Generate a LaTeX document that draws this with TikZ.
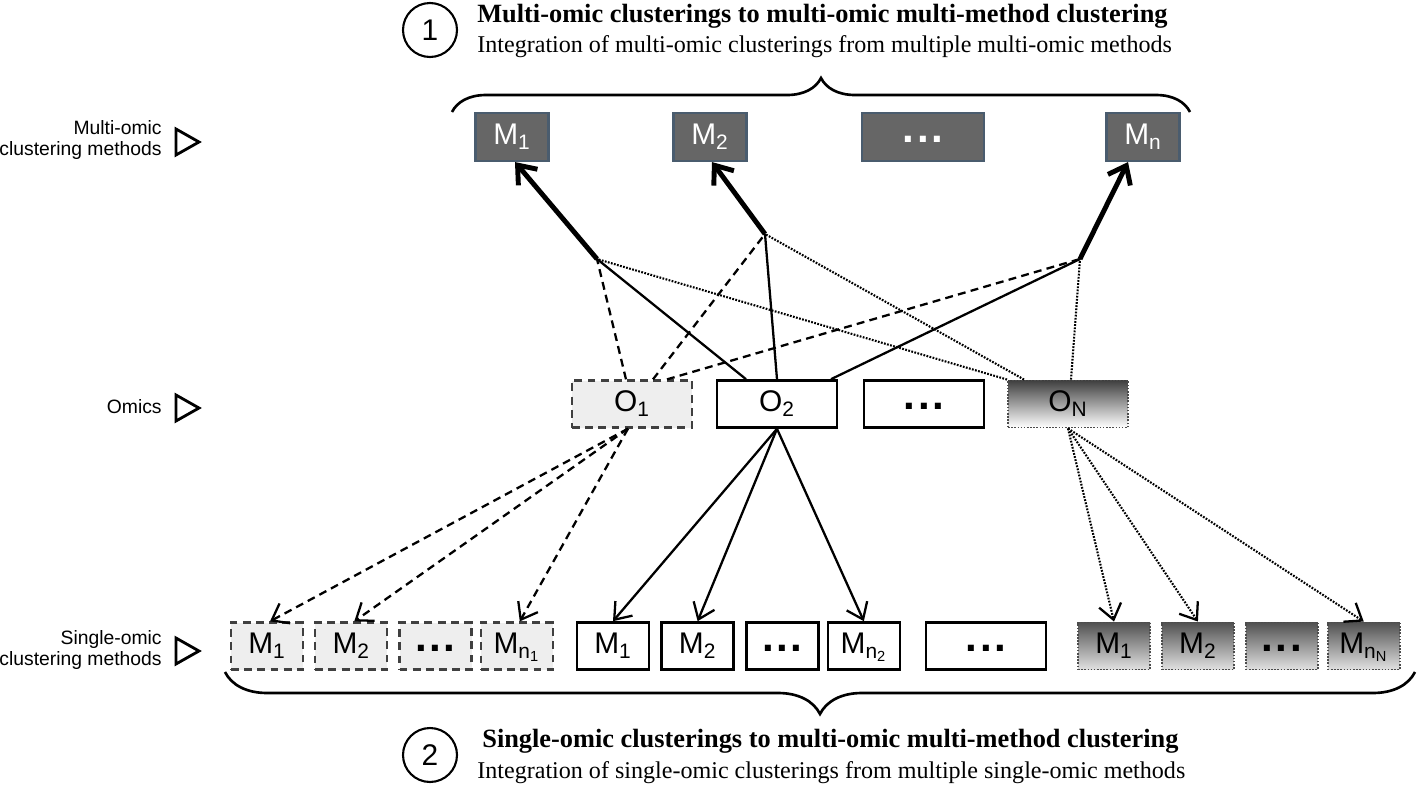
\documentclass[tikz,border=0pt]{standalone}
\usepackage{fontspec}
\setmainfont{Liberation Serif}
\setsansfont{Liberation Sans}
\usetikzlibrary{positioning,arrows.meta,decorations.pathreplacing}

\definecolor{mdark}{RGB}{102,102,102}
\definecolor{mframe}{RGB}{74,92,110}
\definecolor{lgray}{RGB}{238,238,238}
\definecolor{bordgray}{RGB}{64,64,64}

\newcommand{\mdots}{{\fontsize{24}{24}\selectfont\bfseries\raisebox{0.06em}{.\kern0.06em.\kern0.06em.}}}

\begin{document}
\begin{tikzpicture}[
    x=0.02cm, y=-0.02cm,
    box/.style={minimum width=1.44cm, minimum height=0.94cm, inner sep=0pt, text height=12pt, text depth=3pt, font=\sffamily\fontsize{17}{17}\selectfont},
    multibox/.style={box, fill=mdark, draw=mframe, line width=1.2pt, text=white, minimum width=1.46cm, minimum height=0.96cm},
    dashbox/.style={box, fill=lgray, draw=bordgray, line width=1.3pt, dash pattern=on 4.5pt off 3pt},
    solidbox/.style={box, fill=white, draw=black, line width=1.5pt},
    dotbox/.style={box, draw=black!70, line width=1.1pt, dash pattern=on 0.9pt off 0.9pt},
    gradbox/.style={dotbox, top color=black!68, bottom color=black!12},
    wide/.style={minimum width=2.4cm},
    rowlabel/.style={anchor=east, align=right, inner sep=0pt, font=\sffamily\fontsize{11}{12.5}\selectfont},
    marker/.style={draw, line width=1.6pt, line join=miter},
    numcircle/.style={draw, circle, line width=1.2pt, minimum size=1.08cm, inner sep=0pt, font=\sffamily\fontsize{17}{17}\selectfont},
    title/.style={anchor=west, inner sep=0pt, font=\bfseries\fontsize{15}{15}\selectfont},
    subtitle/.style={anchor=west, inner sep=0pt, font=\fontsize{13.7}{14}\selectfont},
    dashline/.style={line width=1.3pt, dash pattern=on 4.5pt off 3pt},
    solidline/.style={line width=1.3pt},
    dotline/.style={line width=1.2pt, dash pattern=on 1pt off 0.8pt},
    toarrow/.style={-{Straight Barb[length=0.3cm, width=0.45cm, line width=1.3pt]}},
    uparrow/.style={line width=2.8pt, -{Straight Barb[length=0.32cm, width=0.5cm]}},
    bracestyle/.style={decorate, line width=1.5pt}
]
\useasboundingbox (0,0) rectangle (1424,788);

% Heading 1
\node[numcircle] (n1) at (430,30) {1};
\node[title] (t1) at (477,16) {Multi-omic clusterings to multi-omic multi-method clustering};
\node[subtitle] (s1) at (477,47) {Integration of multi-omic clusterings from multiple multi-omic methods};
\draw[bracestyle, decoration={brace, amplitude=0.68cm}] (452,112) -- (1190,112);

% Multi-omic methods
\node[multibox] (m1) at (512,137) {M\textsubscript{1}};
\node[multibox] (m2) at (710,137) {M\textsubscript{2}};
\node[multibox, minimum width=2.44cm] (mdots) at (923,137) {\mdots};
\node[multibox] (mn) at (1143,137) {M\textsubscript{n}};

% Omics
\node[dashbox, wide] (o1) at (632,404) {O\textsubscript{1}};
\node[solidbox, wide] (o2) at (777,404) {O\textsubscript{2}};
\node[solidbox, wide] (odots) at (924,404) {\mdots};
\node[dotbox, wide, top color=black!75, bottom color=white] (oN) at (1068,404) {O\textsubscript{N}};

% Single-omic methods
\node[dashbox] (a1) at (267,646) {M\textsubscript{1}};
\node[dashbox, right=0.2cm of a1] (a2) {M\textsubscript{2}};
\node[dashbox, right=0.2cm of a2] (adots) {\mdots};
\node[dashbox, right=0.14cm of adots] (an) {M\textsubscript{n\textsubscript{1}}};
\node[solidbox] (b1) at (613,646) {M\textsubscript{1}};
\node[solidbox, right=0.2cm of b1] (b2) {M\textsubscript{2}};
\node[solidbox, right=0.2cm of b2] (bdots) {\mdots};
\node[solidbox, right=0.14cm of bdots] (bn) {M\textsubscript{n\textsubscript{2}}};
\node[solidbox, wide] (gap) at (986,646) {\mdots};
\node[gradbox] (c1) at (1114,646) {M\textsubscript{1}};
\node[gradbox, right=0.2cm of c1] (c2) {M\textsubscript{2}};
\node[gradbox, right=0.2cm of c2] (cdots) {\mdots};
\node[gradbox, right=0.16cm of cdots] (cn) {M\textsubscript{n\textsubscript{N}}};

% Row labels
\node[rowlabel] (lmulti) at (162,140) {Multi-omic\\clustering methods};
\node[rowlabel] (lomics) at (162,407) {Omics};
\node[rowlabel] (lsingle) at (162,650) {Single-omic\\clustering methods};
\draw[marker] (176,129) -- (199,142) -- (176,155) -- cycle;
\draw[marker] (176,395) -- (199,408) -- (176,421) -- cycle;
\draw[marker] (176,638) -- (199,651) -- (176,664) -- cycle;

% Junctions
\coordinate (j1) at (597,259);
\coordinate (j2) at (765,234);
\coordinate (jn) at (1080,259);

\draw[dashline] ([xshift=-0.12cm]o1.north) -- (j1);
\draw[dashline] ([xshift=0.42cm]o1.north) -- (j2);
\draw[dashline] ([xshift=0.7cm]o1.north) -- (jn);
\draw[solidline] ([xshift=-0.62cm]o2.north) -- (j1);
\draw[solidline] (o2.north) -- (j2);
\draw[solidline] ([xshift=1.08cm]o2.north) -- (jn);
\draw[dotline] (oN.north west) -- (j1);
\draw[dotline] ([xshift=-0.88cm]oN.north) -- (j2);
\draw[dotline] ([xshift=0.06cm]oN.north) -- (jn);

\draw[uparrow] (j1) -- ([xshift=0.06cm]m1.south);
\draw[uparrow] (j2) -- ([xshift=0.04cm]m2.south);
\draw[uparrow] (jn) -- ([xshift=-0.3cm]mn.south);

% Omics to single-omic methods
\draw[dashline, toarrow] ([xshift=-0.08cm]o1.south) -- ([xshift=0.06cm]a1.north);
\draw[dashline, toarrow] ([xshift=-0.08cm]o1.south) -- ([xshift=0.06cm]a2.north);
\draw[dashline, toarrow] ([xshift=-0.08cm]o1.south) -- ([xshift=0.06cm]an.north);
\draw[solidline, toarrow] (o2.south) -- (b1.north);
\draw[solidline, toarrow] (o2.south) -- (b2.north);
\draw[solidline, toarrow] (o2.south) -- (bn.north);
\draw[dotline, toarrow] (oN.south) -- (c1.north);
\draw[dotline, toarrow] (oN.south) -- (c2.north);
\draw[dotline, toarrow] (oN.south) -- (cn.north);

% Heading 2
\draw[bracestyle, decoration={brace, amplitude=0.84cm}] (1415,672) -- (225,672);
\node[numcircle] (n2) at (430,755) {2};
\node[title] (t2) at (482,741) {Single-omic clusterings to multi-omic multi-method clustering};
\node[subtitle] (s2) at (477,773) {Integration of single-omic clusterings from multiple single-omic methods};

\end{tikzpicture}
\end{document}
